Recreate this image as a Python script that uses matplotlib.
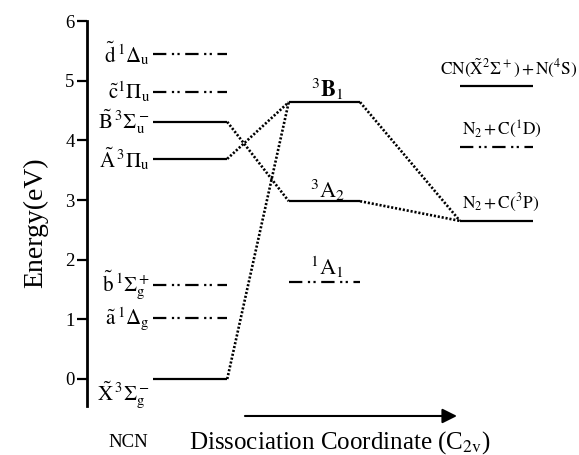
import matplotlib
matplotlib.use("Agg")
import matplotlib.pyplot as plt

plt.rcParams['font.family'] = ['Liberation Serif', 'DejaVu Serif']
plt.rcParams['mathtext.fontset'] = 'stix'

# NCN electronic states (eV)
ncn_labels = [r'$\tilde{\mathrm{d}}\,{}^1\Delta_\mathrm{u}$',
              r'$\tilde{\mathrm{c}}{}^1\Pi_\mathrm{u}$',
              r'$\tilde{\mathrm{B}}\,{}^3\Sigma_\mathrm{u}^-$',
              r'$\tilde{\mathrm{A}}\,{}^3\Pi_\mathrm{u}$',
              r'$\tilde{\mathrm{b}}\,{}^1\Sigma_\mathrm{g}^+$',
              r'$\tilde{\mathrm{a}}\,{}^1\Delta_\mathrm{g}$',
              r'$\tilde{\mathrm{X}}\,{}^3\Sigma_\mathrm{g}^-$']
ncn_energy = [5.45, 4.81, 4.31, 3.69, 1.57, 1.02, 0.0]
ncn_singlet = [True, True, False, False, True, True, False]

# C2v intermediates
c2v_labels = [r'${}^3\mathbf{B}_1$', r'${}^3\mathrm{A}_2$', r'${}^1\mathrm{A}_1$']
c2v_energy = [4.64, 2.98, 1.62]
c2v_singlet = [False, False, True]

# dissociation products
prod_labels = [r'$\mathrm{CN}(\tilde{\mathrm{X}}{}^2\Sigma^+)\,{+}\,\mathrm{N}({}^4\mathrm{S})$',
               r'$\mathrm{N}_2\,{+}\,\mathrm{C}({}^1\mathrm{D})$',
               r'$\mathrm{N}_2\,{+}\,\mathrm{C}({}^3\mathrm{P})$']
prod_energy = [4.91, 3.89, 2.65]
prod_singlet = [False, True, False]

# correlations: (ncn index, c2v index) and (c2v index, product index)
ncn_to_c2v = [(6, 0), (3, 0), (2, 1)]
c2v_to_prod = [(0, 2), (1, 2)]

ncn_x = (1.34, 2.85)
c2v_x = (4.10, 5.55)
prod_x = (7.58, 9.07)

dashdotdot = (0, (6, 2.5, 1, 1.5, 1, 2.5))

fig = plt.figure(figsize=(5.79, 4.55), dpi=100)
ax = fig.add_axes([0.1503, 0.0687, 0.8497, 0.8851])
ax.set_xlim(0, 10)
ax.set_ylim(-0.75, 6.0)


def level(x, e, singlet):
    ls = dashdotdot if singlet else '-'
    ax.plot(x, [e, e], color='black', lw=1.6, ls=ls, solid_capstyle='butt')


for lab, e, s in zip(ncn_labels, ncn_energy, ncn_singlet):
    level(ncn_x, e, s)
    ty = e if e > 0.5 else e - 0.27
    ax.text(1.28, ty, lab, ha='right', va='center', fontsize=15)

c2v_off = [0.09, 0.06, 0.13]
for lab, e, s, off in zip(c2v_labels, c2v_energy, c2v_singlet, c2v_off):
    level(c2v_x, e, s)
    ax.text(4.88, e + off, lab, ha='center', va='baseline', fontsize=16)

# product labels: (x, alignment)
prod_tx = [(9.96, 'right'), (7.62, 'left'), (7.62, 'left')]
for lab, e, s, (tx, al) in zip(prod_labels, prod_energy, prod_singlet, prod_tx):
    level(prod_x, e, s)
    ax.text(tx, e + 0.21, lab, ha=al, va='baseline', fontsize=12.5)

for i, j in ncn_to_c2v:
    ax.plot([ncn_x[1], c2v_x[0]], [ncn_energy[i], c2v_energy[j]],
            color='black', lw=1.9, ls=(0, (0.8, 0.7)))
for i, j in c2v_to_prod:
    ax.plot([c2v_x[1], prod_x[0]], [c2v_energy[i], prod_energy[j]],
            color='black', lw=1.9, ls=(0, (0.8, 0.7)))

# reaction coordinate arrow
ax.annotate('', xy=(7.52, -0.62), xytext=(3.21, -0.62), annotation_clip=False,
            arrowprops=dict(arrowstyle='-|>', color='black', lw=1.5,
                            mutation_scale=22, shrinkA=0, shrinkB=0))
ax.text(0.83, -1.06, 'NCN', ha='center', va='center', fontsize=13.5)
ax.text(5.14, -1.06, r'Dissociation Coordinate (C$_{2\mathrm{v}}$)',
        ha='center', va='center', fontsize=18)

for side in ['top', 'right', 'bottom']:
    ax.spines[side].set_visible(False)
ax.spines['left'].set_linewidth(2.0)
ax.spines['left'].set_bounds(-0.45, 6.0)
ax.set_xticks([])
ax.set_yticks(range(0, 7))
ax.tick_params(axis='y', direction='out', length=7, width=1.6, labelsize=13.5, pad=2)
ax.set_ylabel('Energy(eV)', fontsize=20, labelpad=12)

fig.savefig('out.png', dpi=100)
